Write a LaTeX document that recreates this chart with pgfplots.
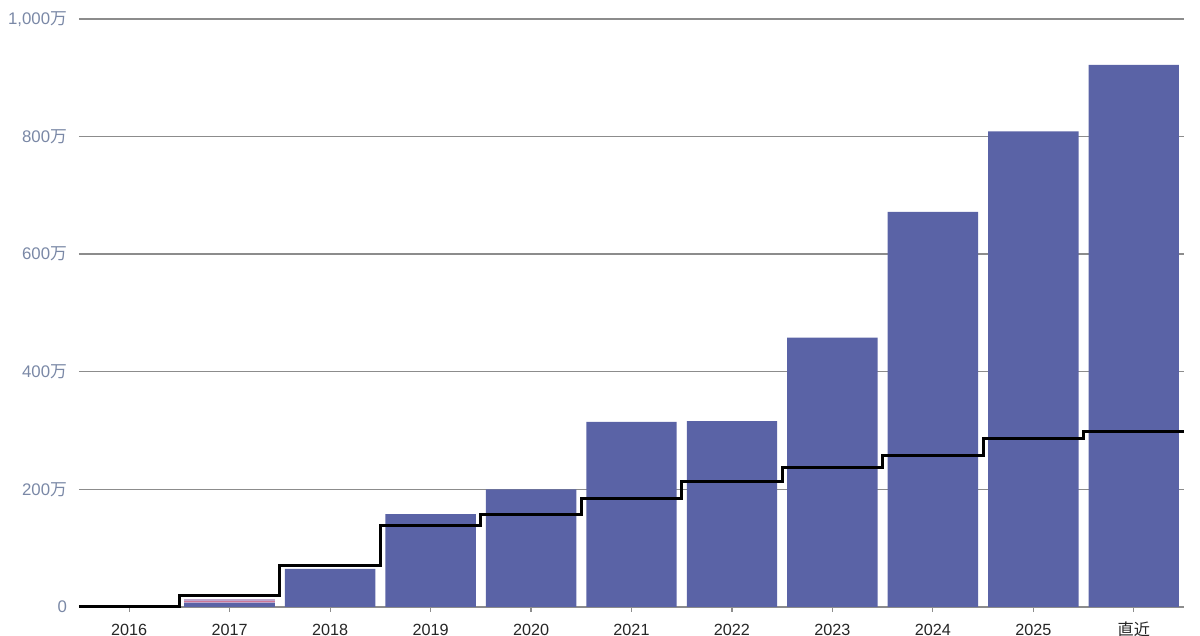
\documentclass[border=0pt]{standalone}
\usepackage{pgfplots}
\pgfplotsset{compat=1.18}
\usepackage{fontspec}
\setmainfont{Liberation Sans}
\newfontfamily\cjk{Noto Sans CJK JP}
\definecolor{barblue}{RGB}{90,99,166}
\definecolor{pinkseg}{RGB}{205,120,150}
\definecolor{lavseg}{RGB}{190,165,205}
\definecolor{ylab}{RGB}{122,136,166}
\definecolor{gridc}{RGB}{140,140,140}
\begin{document}
\begin{tikzpicture}
\begin{axis}[
  name=ax,
  scale only axis,
  width=552.5pt, height=294pt,
  xmin=-0.5, xmax=10.5,
  ymin=0, ymax=1000,
  axis line style={draw=none},
  xtick={0,1,2,3,4,5,6,7,8,9,10},
  xticklabels={2016,2017,2018,2019,2020,2021,2022,2023,2024,2025,{\cjk 直近}},
  xtick pos=bottom,
  tick align=outside,
  major tick length=2.5pt,
  xtick style={gridc, line width=0.6pt},
  xticklabel style={font=\fontsize{8.1}{9}\selectfont, text=black!85, text height=6pt, text depth=0pt, yshift=-2.2pt},
  ytick={0,200,400,600,800,1000},
  yticklabels={0,{200\cjk 万},{400\cjk 万},{600\cjk 万},{800\cjk 万},{1,000\cjk 万}},
  ytick style={draw=none},
  yticklabel style={font=\fontsize{8.4}{9}\selectfont, text=ylab, xshift=0pt},
  ymajorgrids,
  grid style={gridc, line width=0.7pt},
  extra y ticks={0},
  extra y tick labels={},
  extra y tick style={grid style={gridc, line width=1.3pt}},
  clip=false,
]
% main bars
\addplot[ybar, bar width=0.9, bar shift=0pt, fill=barblue, draw=none] coordinates {
  (0,0) (1,0) (2,65) (3,158) (4,200) (5,315) (6,316) (7,458) (8,672) (9,809) (10,922)
};
% small stacked 2017 bar
\addplot[ybar, bar width=0.9, bar shift=0pt, fill=lavseg, draw=none] coordinates {(1,14)};
\addplot[ybar, bar width=0.9, bar shift=0pt, fill=pinkseg, draw=none] coordinates {(1,10)};
\addplot[ybar, bar width=0.9, bar shift=0pt, fill=lavseg, draw=none] coordinates {(1,8.5)};
\addplot[ybar, bar width=0.9, bar shift=0pt, fill=barblue, draw=none] coordinates {(1,6.5)};
% step line
\addplot[const plot mark left, black, line width=1.5pt, mark=none] coordinates {
  (-0.5,1) (0.5,19) (1.5,71) (2.5,138) (3.5,158) (4.5,185) (5.5,214) (6.5,238) (7.5,257) (8.5,286) (9.5,298) (10.5,298)
};
\end{axis}
\pgfresetboundingbox
\path ([xshift=-39.5pt,yshift=-14.5pt]ax.south west) rectangle ([xshift=8pt,yshift=9.5pt]ax.north east);
\end{tikzpicture}
\end{document}
